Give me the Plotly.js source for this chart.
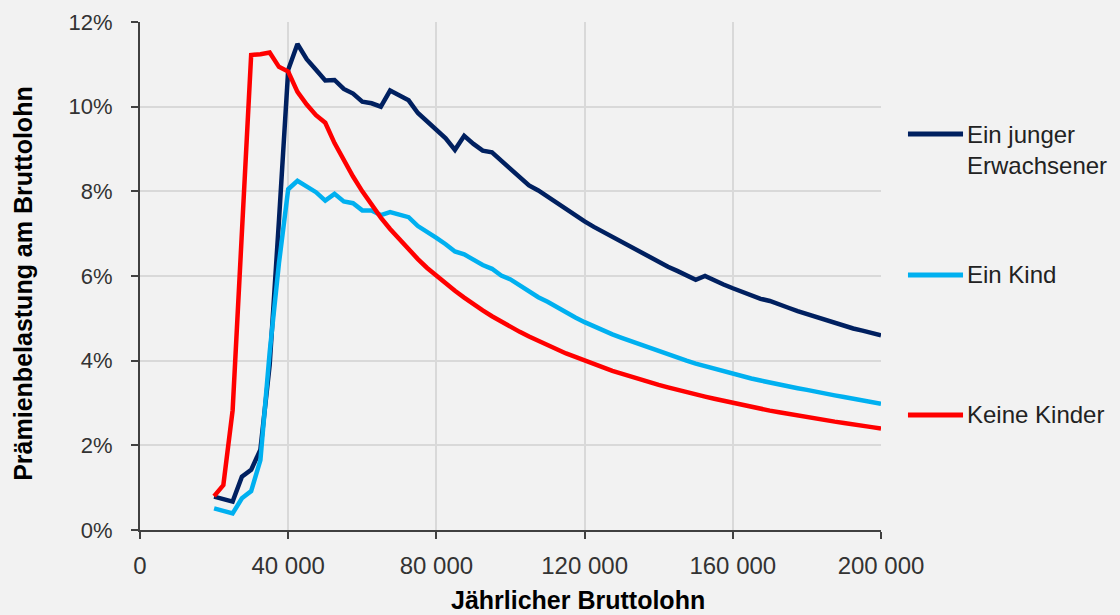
<!DOCTYPE html>
<html>
<head>
<meta charset="utf-8">
<script src="https://cdn.plot.ly/plotly-3.0.1.min.js"></script>
<style>
  html, body { margin: 0; padding: 0; background: #f2f2f2; }
  #chart { width: 1120px; height: 615px; }
</style>
</head>
<body>
<div id="chart"></div>
<script>
// Jährlicher Bruttolohn (CHF)
const bruttolohn = [20000,22500,25000,27500,30000,32500,35000,37500,40000,42500,45000,47500,50000,52500,55000,57500,60000,62500,65000,67500,70000,72500,75000,77500,80000,82500,85000,87500,90000,92500,95000,97500,100000,102500,105000,107500,110000,112500,115000,117500,120000,122500,125000,127500,130000,132500,135000,137500,140000,142500,145000,147500,150000,152500,155000,157500,160000,162500,165000,167500,170000,172500,175000,177500,180000,182500,185000,187500,190000,192500,195000,197500,200000];

// Prämienbelastung am Bruttolohn (%)
const einJungerErwachsener = [0.79,0.72,0.67,1.26,1.42,1.90,3.90,7.30,10.87,11.48,11.12,10.87,10.62,10.63,10.42,10.31,10.12,10.08,10.00,10.38,10.27,10.15,9.85,9.66,9.46,9.25,8.98,9.31,9.12,8.96,8.92,8.72,8.52,8.33,8.14,8.02,7.87,7.72,7.57,7.42,7.29,7.16,7.04,6.92,6.80,6.68,6.57,6.45,6.33,6.22,6.12,6.02,5.91,6.00,5.89,5.80,5.71,5.62,5.53,5.46,5.41,5.32,5.25,5.17,5.10,5.03,4.96,4.89,4.82,4.76,4.71,4.65,4.60];

const einKind = [0.51,0.45,0.39,0.75,0.92,1.65,4.20,6.30,8.05,8.25,8.12,7.98,7.78,7.94,7.76,7.72,7.55,7.55,7.44,7.51,7.45,7.39,7.18,7.05,6.90,6.75,6.58,6.51,6.38,6.26,6.17,6.01,5.92,5.78,5.63,5.50,5.39,5.26,5.14,5.02,4.91,4.81,4.71,4.62,4.54,4.46,4.38,4.30,4.22,4.15,4.08,4.00,3.93,3.87,3.81,3.75,3.68,3.63,3.58,3.53,3.48,3.43,3.39,3.35,3.31,3.26,3.22,3.18,3.14,3.10,3.06,3.02,2.98];

const keineKinder = [0.80,1.06,2.83,7.00,11.22,11.24,11.28,10.94,10.83,10.35,10.05,9.80,9.62,9.14,8.73,8.35,8.00,7.68,7.38,7.11,6.86,6.62,6.40,6.19,6.00,5.82,5.65,5.49,5.33,5.19,5.05,4.92,4.80,4.68,4.57,4.47,4.36,4.27,4.17,4.09,4.00,3.92,3.84,3.76,3.69,3.62,3.56,3.49,3.43,3.37,3.31,3.25,3.20,3.15,3.10,3.05,3.00,2.95,2.91,2.87,2.82,2.78,2.74,2.70,2.67,2.63,2.59,2.56,2.53,2.49,2.46,2.43,2.40];

const seriesNames = ["Ein junger<br>Erwachsener", "Ein Kind", "Keine Kinder"];
const seriesColors = ["#002060", "#00b0f0", "#ff0000"];

const xTickVals = [0, 40000, 80000, 120000, 160000, 200000];
const xTickText = ["0", "40 000", "80 000", "120 000", "160 000", "200 000"];
const yTickVals = [0, 2, 4, 6, 8, 10, 12];
const yTickText = ["0%", "2%", "4%", "6%", "8%", "10%", "12%"];

const xTitle = "Jährlicher Bruttolohn";
const yTitle = "Prämienbelastung am Bruttolohn";

const seriesData = [einJungerErwachsener, einKind, keineKinder];

const traces = seriesData.map((vals, i) => ({
  type: "scatter",
  mode: "lines",
  x: bruttolohn,
  y: vals,
  name: seriesNames[i],
  line: { color: seriesColors[i], width: 4.5 },
  showlegend: false,
  hoverinfo: "x+y+name"
}));

const FONT = "Liberation Sans, Arial, Helvetica, sans-serif";

// custom legend (swatch + label), positioned to the right of the plot
const legendY = [0.7795, 0.502, 0.2264];
const legendTextY = [0.749, 0.502, 0.2264];
const shapes = seriesColors.map((c, i) => ({
  type: "line", xref: "paper", yref: "paper",
  x0: 1.0364, x1: 1.1107, y0: legendY[i], y1: legendY[i],
  line: { color: c, width: 5 }
}));
const annotations = seriesNames.map((n, i) => ({
  xref: "paper", yref: "paper", x: 1.114, y: legendTextY[i],
  xanchor: "left", yanchor: "middle", align: "left",
  text: n, showarrow: false,
  font: { family: FONT, size: 24, color: "#222222" }
}));
annotations.push({
  xref: "paper", yref: "paper", x: 0.591, y: -0.138,
  xanchor: "center", yanchor: "middle",
  text: "<b>" + xTitle + "</b>", showarrow: false,
  font: { family: FONT, size: 25, color: "#000000" }
});
annotations.push({
  xref: "paper", yref: "paper", x: -0.159, y: 0.485,
  xanchor: "center", yanchor: "middle", textangle: -90,
  text: "<b>" + yTitle + "</b>", showarrow: false,
  font: { family: FONT, size: 25, color: "#000000" }
});

const layout = {
  width: 1120, height: 615,
  margin: { l: 140, r: 239, t: 22, b: 85, pad: 0 },
  paper_bgcolor: "#f2f2f2",
  plot_bgcolor: "#f2f2f2",
  font: { family: FONT, color: "#333333" },
  xaxis: {
    range: [0, 200000],
    tickmode: "array", tickvals: xTickVals, ticktext: xTickText,
    showgrid: true, gridcolor: "#d9d9d9", gridwidth: 2,
    showline: true, linecolor: "#404040", linewidth: 2,
    ticks: "outside", ticklen: 7, tickwidth: 2, tickcolor: "#404040",
    tickfont: { family: FONT, size: 24, color: "#333333" },
    ticklabelstandoff: 6,
    zeroline: false, fixedrange: true
  },
  yaxis: {
    range: [0, 12],
    tickmode: "array", tickvals: yTickVals, ticktext: yTickText,
    showgrid: true, gridcolor: "#d9d9d9", gridwidth: 2,
    showline: true, linecolor: "#404040", linewidth: 2,
    ticks: "outside", ticklen: 7, tickwidth: 2, tickcolor: "#404040",
    tickfont: { family: FONT, size: 22, color: "#333333" },
    ticklabelstandoff: 14,
    zeroline: false, fixedrange: true
  },
  shapes: shapes,
  annotations: annotations,
  showlegend: false
};

Plotly.newPlot("chart", traces, layout, { displayModeBar: false, responsive: false });
</script>
</body>
</html>
